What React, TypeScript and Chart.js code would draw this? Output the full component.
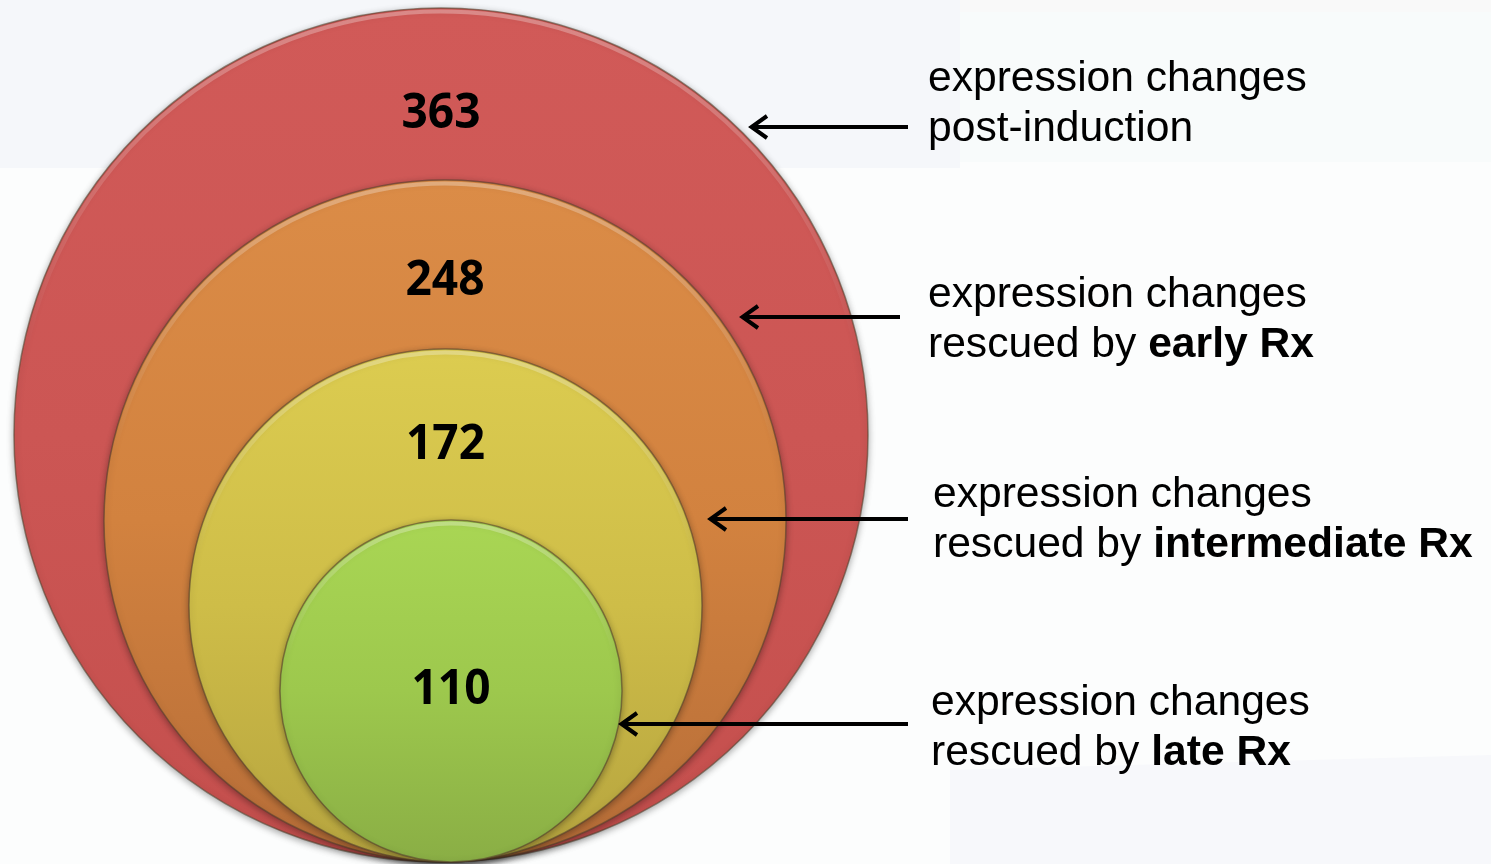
import React, { useEffect, useRef } from 'react';
import { Chart, registerables } from 'chart.js';
Chart.register(...registerables);

const W = 1491;
const H = 864;

// ---- data ----
const ringNames = ['post-induction', 'early Rx', 'intermediate Rx', 'late Rx'];
const geneCounts = [363, 248, 172, 110];
const ringRadius = [427, 341, 256.5, 171];
const ringCenterX = [441, 445, 445.5, 451];
const ringBottom = 862;
const countLabelY = [112, 279, 443, 688];

const descLine1 = 'expression changes';
const descPrefix = ['post-induction', 'rescued by ', 'rescued by ', 'rescued by '];
const descBold = ['', 'early Rx', 'intermediate Rx', 'late Rx'];

const arrowY = [127, 317, 519, 724];
const arrowTipX = [750, 741, 709, 620];
const arrowTailX = [908, 900, 908, 908];
const textX = [928, 928, 933, 931];
const textBaseY = [91, 307, 507, 715];

// ---- styles ----
const fillTop = ['#d15a58', '#db8c47', '#dccc50', '#a9d654'];
const fillMid = ['#cc5654', '#d2823f', '#cebd48', '#9dc84d'];
const fillBottom = ['#c44f4d', '#b66d38', '#b6a43f', '#8aae45'];

const ringPoints = ringRadius.map((r, i) => ({ x: ringCenterX[i], y: ringBottom - r, r }));

function pxR(chart: any, r: number) {
  const xs = chart.scales.x;
  return Math.abs(xs.getPixelForValue(r) - xs.getPixelForValue(0));
}

const backgroundPlugin = {
  id: 'bg',
  beforeDraw(chart: any) {
    const ctx = chart.ctx;
    ctx.save();
    ctx.fillStyle = '#fcfdfd';
    ctx.fillRect(0, 0, W, H);
    ctx.fillStyle = '#f5f7fa';
    ctx.fillRect(0, 0, 960, 168);
    ctx.fillStyle = '#f9f9f9';
    ctx.fillRect(960, 0, W - 960, 12);
    ctx.fillStyle = '#f8fbfb';
    ctx.fillRect(960, 12, W - 960, 150);
    ctx.fillStyle = '#f7f8fb';
    ctx.beginPath();
    ctx.moveTo(950, 864);
    ctx.lineTo(950, 770);
    ctx.lineTo(1491, 755);
    ctx.lineTo(1491, 864);
    ctx.closePath();
    ctx.fill();
    ctx.restore();
  },
  beforeDatasetsDraw(chart: any) {
    const ctx = chart.ctx;
    ctx.save();
    ctx.shadowColor = 'rgba(0,0,0,0.35)';
    ctx.shadowBlur = 7;
    ctx.shadowOffsetX = 0;
    ctx.shadowOffsetY = 2;
  },
  afterDatasetsDraw(chart: any) {
    const ctx = chart.ctx;
    ctx.restore();
    const xs = chart.scales.x;
    const ys = chart.scales.y;
    // bevel highlights
    ringPoints.forEach((p) => {
      const cx = xs.getPixelForValue(p.x);
      const cy = ys.getPixelForValue(p.y);
      const r = pxR(chart, p.r);
      const g = ctx.createLinearGradient(0, cy - r, 0, cy - r * 0.2);
      g.addColorStop(0, 'rgba(255,255,255,0.3)');
      g.addColorStop(1, 'rgba(255,255,255,0)');
      ctx.save();
      ctx.strokeStyle = g;
      ctx.lineWidth = 4;
      ctx.beginPath();
      ctx.arc(cx, cy, r - 3.5, Math.PI * 1.02, Math.PI * 1.98);
      ctx.stroke();
      ctx.restore();
    });
    // count labels
    ctx.save();
    ctx.fillStyle = '#000';
    ctx.font = 'bold 48px "Noto Sans", "Open Sans", sans-serif';
    ctx.textAlign = 'center';
    ctx.textBaseline = 'middle';
    geneCounts.forEach((v, i) => {
      const x = xs.getPixelForValue(ringCenterX[i]);
      const y = ys.getPixelForValue(countLabelY[i]) + 2;
      ctx.save();
      ctx.translate(x, y);
      ctx.scale(0.96, 1);
      ctx.fillText(String(v), 0, 0);
      ctx.restore();
    });
    ctx.restore();
    // arrows
    ctx.save();
    ctx.strokeStyle = '#000';
    ctx.lineWidth = 4;
    ctx.lineCap = 'butt';
    ctx.lineJoin = 'miter';
    arrowY.forEach((ay, i) => {
      const y = ys.getPixelForValue(ay);
      const x0 = xs.getPixelForValue(arrowTailX[i]);
      const x1 = xs.getPixelForValue(arrowTipX[i]);
      ctx.beginPath();
      ctx.moveTo(x0, y);
      ctx.lineTo(x1 + 2, y);
      ctx.stroke();
      ctx.beginPath();
      ctx.moveTo(x1 + 17, y - 11);
      ctx.lineTo(x1 + 1.5, y);
      ctx.lineTo(x1 + 17, y + 11);
      ctx.stroke();
    });
    ctx.restore();
    // descriptions
    ctx.save();
    ctx.fillStyle = '#000';
    ctx.textAlign = 'left';
    ctx.textBaseline = 'alphabetic';
    const reg = '42.6px "Liberation Sans", Arial, sans-serif';
    const bold = 'bold 42.6px "Liberation Sans", Arial, sans-serif';
    ringNames.forEach((_, i) => {
      const x = xs.getPixelForValue(textX[i]);
      const y = ys.getPixelForValue(textBaseY[i]);
      ctx.font = reg;
      ctx.fillText(descLine1, x, y);
      ctx.fillText(descPrefix[i], x, y + 50);
      const w = ctx.measureText(descPrefix[i]).width;
      if (descBold[i]) {
        ctx.font = bold;
        ctx.fillText(descBold[i], x + w, y + 50);
      }
    });
    ctx.restore();
  },
};

export default function App() {
  const ref = useRef<HTMLCanvasElement | null>(null);
  useEffect(() => {
    if (!ref.current) return;
    const chart = new Chart(ref.current, {
      type: 'scatter',
      data: {
        datasets: [
          {
            label: 'rings',
            data: ringPoints as any,
            clip: false as any,
            pointStyle: 'circle',
            pointRadius: (c: any) => (c.raw ? pxR(c.chart, c.raw.r) : 0),
            pointHoverRadius: (c: any) => (c.raw ? pxR(c.chart, c.raw.r) : 0),
            pointBorderWidth: 1.5,
            pointBorderColor: 'rgba(85,65,45,0.6)',
            pointBackgroundColor: (c: any) => {
              const chart = c.chart;
              const i = c.dataIndex;
              if (!chart.chartArea || !c.raw) return fillMid[i] || '#ccc';
              const ys = chart.scales.y;
              const cy = ys.getPixelForValue(c.raw.y);
              const r = pxR(chart, c.raw.r);
              const g = chart.ctx.createLinearGradient(0, cy - r, 0, cy + r);
              g.addColorStop(0, fillTop[i]);
              g.addColorStop(0.5, fillMid[i]);
              g.addColorStop(1, fillBottom[i]);
              return g;
            },
          } as any,
        ],
      },
      options: {
        responsive: false,
        animation: false,
        devicePixelRatio: 1,
        events: [],
        layout: { padding: 0 },
        plugins: { legend: { display: false }, tooltip: { enabled: false } },
        scales: {
          x: { type: 'linear', min: 0, max: W, display: false },
          y: { type: 'linear', min: 0, max: H, reverse: true, display: false },
        },
      },
      plugins: [backgroundPlugin],
    });
    return () => chart.destroy();
  }, []);
  return (
    <div style={{ position: 'fixed', left: 0, top: 0, width: W, height: H }}>
      <canvas ref={ref} width={W} height={H} style={{ display: 'block', width: W, height: H }} />
    </div>
  );
}
